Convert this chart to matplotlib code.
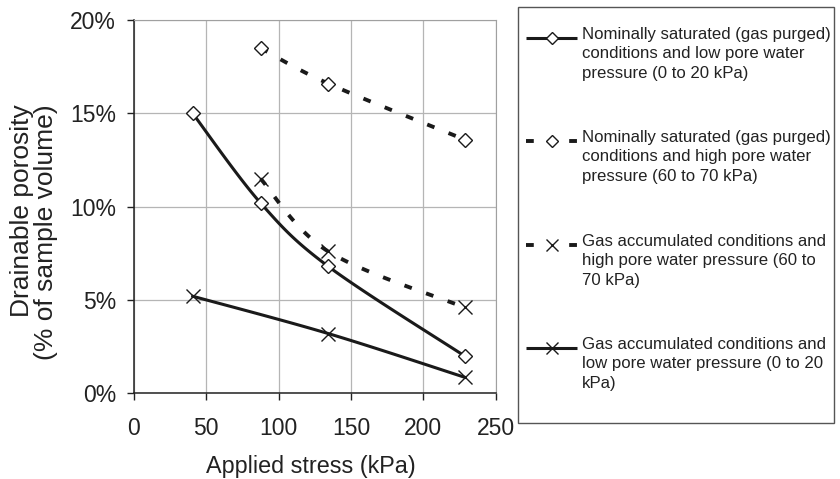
import numpy as np
import matplotlib
matplotlib.use("Agg")
import matplotlib.pyplot as plt
from matplotlib.lines import Line2D
from matplotlib.patches import Rectangle

plt.rcParams['font.family'] = ['Liberation Sans', 'DejaVu Sans']

# applied stress (kPa) and drainable porosity (% of sample volume)
stress_sat_low = [40.6, 87.5, 134.3, 228.5]
poro_sat_low = [15.0, 10.2, 6.8, 2.0]

stress_sat_high = [87.5, 134.3, 228.5]
poro_sat_high = [18.5, 16.6, 13.6]

stress_gas_high = [87.5, 134.3, 228.5]
poro_gas_high = [11.5, 7.6, 4.6]

stress_gas_low = [40.6, 134.3, 228.5]
poro_gas_low = [5.2, 3.2, 0.86]

labels = [
    "Nominally saturated (gas purged)\nconditions and low pore water\npressure (0 to 20 kPa)",
    "Nominally saturated (gas purged)\nconditions and high pore water\npressure (60 to 70 kPa)",
    "Gas accumulated conditions and\nhigh pore water pressure (60 to\n70 kPa)",
    "Gas accumulated conditions and\nlow pore water pressure (0 to 20\nkPa)",
]

XMAX, YMAX = 250, 20
INK = '#1a1a1a'


def smooth(x, y, n=40, t=1/6.):
    # bezier smoothing through the points, done in axis-normalised space
    px = np.asarray(x, float) / XMAX * 1.0
    py = np.asarray(y, float) / YMAX * 1.04
    pts = np.column_stack([px, py])
    out = [pts[0]]
    for i in range(len(pts) - 1):
        p0 = pts[i - 1] if i > 0 else pts[i]
        p1 = pts[i]
        p2 = pts[i + 1]
        p3 = pts[i + 2] if i + 2 < len(pts) else pts[i + 1]
        c1 = p1 + (p2 - p0) * t
        c2 = p2 - (p3 - p1) * t
        s = np.linspace(0, 1, n)[1:, None]
        seg = ((1 - s) ** 3) * p1 + 3 * ((1 - s) ** 2) * s * c1 + 3 * (1 - s) * s ** 2 * c2 + s ** 3 * p2
        out.extend(seg)
    out = np.array(out)
    return out[:, 0] * XMAX, out[:, 1] / 1.04 * YMAX


fig = plt.figure(figsize=(8.4, 4.79), dpi=100)
ax = fig.add_axes([0.1595, 0.179, 0.4305, 0.779])

dash = (0, (2.0, 3.9))
series = [
    (stress_sat_low, poro_sat_low, '-', 'D'),
    (stress_sat_high, poro_sat_high, dash, 'D'),
    (stress_gas_high, poro_gas_high, dash, 'x'),
    (stress_gas_low, poro_gas_low, '-', 'x'),
]


def draw_marker(target, x, y, mk, **kw):
    if mk == 'D':
        target.plot(x, y, ls='none', marker='D', ms=7, mfc='white', mec=INK,
                    mew=1.0, zorder=4, **kw)
    else:
        target.plot(x, y, ls='none', marker='x', ms=9.5, mec=INK, mew=1.0,
                    zorder=4, **kw)


for x, y, ls, mk in series:
    sx, sy = smooth(x, y)
    lw = 2.2 if ls == '-' else 2.8
    ax.plot(sx, sy, color=INK, lw=lw, ls=ls, zorder=3, dash_capstyle='butt')
    draw_marker(ax, x, y, mk)

ax.set_xlim(0, XMAX)
ax.set_ylim(0, YMAX)
ax.set_xticks([0, 50, 100, 150, 200, 250])
ax.set_yticks([0, 5, 10, 15, 20])
ax.set_yticklabels(['0%', '5%', '10%', '15%', '20%'])
ax.tick_params(labelsize=16.5, direction='out', length=5, width=1, colors='#222222')
ax.tick_params(axis='x', pad=12)
ax.tick_params(axis='y', pad=8)
ax.grid(True, color='#b5b5b5', lw=0.9)
ax.set_axisbelow(True)
for side in ['top', 'right']:
    ax.spines[side].set_color('#a0a0a0')
for side in ['left', 'bottom']:
    ax.spines[side].set_color('#222222')
    ax.spines[side].set_linewidth(1.1)

fig.text(311 / 840, 1 - 467 / 479, "Applied stress (kPa)", fontsize=16.8,
         ha='center', va='center', color='#222222')
fig.text(34 / 840, 1 - 232 / 479, "Drainable porosity\n(% of sample volume)",
         fontsize=19, rotation=90, ha='center', va='center', color='#222222',
         linespacing=1.05, multialignment='right')

# legend box drawn by hand
fig.patches.append(Rectangle((518 / 840, 1 - 423 / 479), 316 / 840, 416 / 479,
                             transform=fig.transFigure, fill=False,
                             ec='#555555', lw=1.0))
row_y = [38, 141, 245, 348]
for i, (x, y, ls, mk) in enumerate(series):
    yy = 1 - row_y[i] / 479
    if ls == '-':
        fig.lines.append(Line2D([526 / 840, 577 / 840], [yy, yy], transform=fig.transFigure,
                                color=INK, lw=2.2, solid_capstyle='butt'))
    else:
        fig.lines.append(Line2D([526 / 840, 577 / 840], [yy, yy], transform=fig.transFigure,
                                color=INK, lw=2.8, ls=(0, (2.0, 9.1)),
                                dash_capstyle='butt'))
    if mk == 'D':
        fig.lines.append(Line2D([552 / 840], [yy], transform=fig.transFigure, ls='none',
                                marker='D', ms=6, mfc='white', mec=INK, mew=1.0))
    else:
        fig.lines.append(Line2D([552 / 840], [yy], transform=fig.transFigure, ls='none',
                                marker='x', ms=8, mec=INK, mew=1.0))
    fig.text(582 / 840, 1 - (row_y[i] - 11) / 479, labels[i], fontsize=12.1,
             ha='left', va='top', color='#222222', linespacing=1.36)

fig.savefig('out.png', dpi=100)
